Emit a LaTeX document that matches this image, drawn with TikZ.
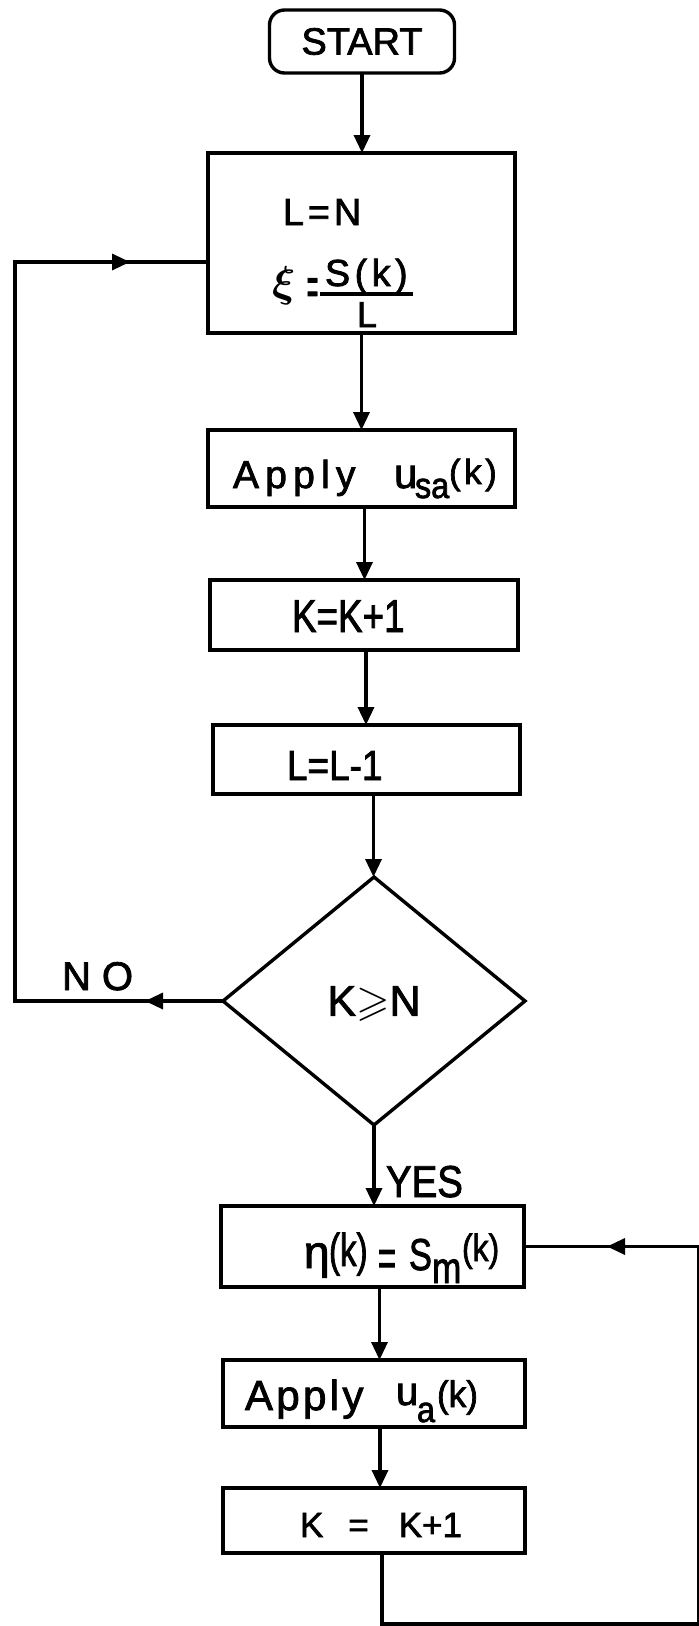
\documentclass[tikz,border=0pt]{standalone}
\usepackage{fix-cm}
\usepackage{amsmath}
\usepackage{amssymb}
\usepackage{graphicx}
\usepackage{fontspec}
\setmainfont{Liberation Sans}[FakeBold=2]
\usetikzlibrary{arrows.meta,shapes.geometric,decorations.markings}
\newcommand{\myfs}[1]{\fontsize{#1}{#1}\selectfont}
\newcommand{\lsp}[1]{\addfontfeature{LetterSpace=#1}}
\begin{document}
\begin{tikzpicture}[x=1pt,y=-1pt,
  box/.style={draw, line width=3.4pt, inner sep=0pt, outer sep=0pt},
  startbox/.style={box, rounded corners=15pt},
  decision/.style={box, diamond},
  conn/.style={line width=3.4pt},
  tip/.tip={Triangle[length=18pt,width=16pt]},
  arr/.style={conn, -tip},
  lbl/.style={anchor=base west, inner sep=0pt, outer sep=0pt},
  onemark/.style={conn, postaction={decorate}, decoration={markings,
     mark=at position #1 with {\arrow{tip}}}},
  twomarks/.style 2 args={conn, postaction={decorate}, decoration={markings,
     mark=at position #1 with {\arrow{tip}},
     mark=at position #2 with {\arrow{tip}}}}
]
\useasboundingbox (0,0) rectangle (699,1626);

% boxes
\node[startbox, minimum width=185pt, minimum height=63pt] (start) at (362,41.5) {\myfs{38}START};
\node[box, minimum width=307pt, minimum height=180pt] (b1) at (361.5,243) {};
\node[box, minimum width=307pt, minimum height=77pt] (b2) at (361.5,468.5) {};
\node[box, minimum width=308pt, minimum height=70pt] (b3) at (364,615) {};
\node[box, minimum width=307pt, minimum height=69pt] (b4) at (366.5,759.5) {};
\node[decision, minimum width=302pt, minimum height=248pt, text depth=0pt] (dia) at (374,1001) {\myfs{43}K$\geqslant$N};
\node[box, minimum width=303pt, minimum height=81pt] (b5) at (372.5,1246.5) {};
\node[box, minimum width=302pt, minimum height=67pt] (b6) at (374,1393.5) {};
\node[box, minimum width=302pt, minimum height=65pt] (b7) at (374,1520.5) {};

% box 1 texts
\node[lbl] (tLN) at (283,225) {\myfs{37.7}L\hspace{4pt}=\hspace{4pt}N};
\node[lbl] (txi) at (272,296) {\myfs{24}\scalebox{1.8}{$\boldsymbol{\xi}$}};
\node[lbl] (teq) at (307,305) {\myfs{32}\scalebox{0.6}[1.7]{=}};
\node[lbl] (tnum) at (325,286) {\myfs{37.7}\lsp{12}S(k)};
\draw[conn] (320,294) -- (413,294);
\node[lbl] (tden) at (357,327) {\myfs{36}L};

% box 2
\node[lbl] (t2a) at (233,488) {\myfs{39}\lsp{16}Apply};
\node[lbl] (t2u) at (394,488) {\myfs{42}u};
\node[lbl] (t2s) at (415,498) {\myfs{36}\scalebox{0.9}[1]{sa}};
\node[lbl] (t2k) at (449,484) {\myfs{35}\lsp{10}(k)};

% box 3, 4
\node[lbl] (t3) at (292,632) {\myfs{46}\scalebox{0.8}[1]{K=K+1}};
\node[lbl] (t4) at (287,780) {\myfs{42}\scalebox{0.88}[1]{L=L-1}};

% decision labels
\node[lbl] (tno) at (62,990) {\myfs{40}N O};
\node[lbl] (tyes) at (386,1197) {\myfs{44.7}\scalebox{0.86}[1]{YES}};

% box 5
\node[lbl] (t5a) at (304,1268) {\myfs{46}η};
\node[lbl] (t5b) at (329,1266) {\myfs{46}\scalebox{0.72}[1]{(k)}};
\node[lbl] (t5c) at (378,1276) {\myfs{44}\scalebox{0.7}[1.2]{=}};
\node[lbl] (t5d) at (409,1270) {\myfs{44.7}\scalebox{0.77}[1]{S}};
\node[lbl] (t5e) at (432,1283) {\myfs{44}\scalebox{0.8}[1]{m}};
\node[lbl] (t5f) at (462,1261) {\myfs{38}\scalebox{0.84}[1]{(k)}};

% box 6
\node[lbl] (t6a) at (245,1410) {\myfs{42}\lsp{8}Apply};
\node[lbl] (t6u) at (396,1405) {\myfs{40}u};
\node[lbl] (t6s) at (417,1422) {\myfs{36}\scalebox{0.9}[1]{a}};
\node[lbl] (t6k) at (437,1407) {\myfs{37}\scalebox{0.95}[1]{(k)}};

% box 7
\node[lbl] (t7) at (300,1537) {\myfs{35}K\hspace{25pt}=\hspace{30pt}K+1};

% main flow
\draw[arr] (start.south) -- (start.south |- b1.north);
\draw[arr] (b1.south) -- (b1.south |- b2.north);
\draw[arr] ([xshift=3pt]b2.south) -- ([xshift=3pt]b2.south |- b3.north);
\draw[arr] ([xshift=2pt]b3.south) -- ([xshift=2pt]b3.south |- b4.north);
\draw[arr] ([xshift=7pt]b4.south) -- ([xshift=7pt]b4.south |- dia.north);
\draw[arr] (dia.south) -- (dia.south |- b5.north);
\draw[arr] ([xshift=7pt]b5.south) -- ([xshift=7pt]b5.south |- b6.north);
\draw[arr] ([xshift=6pt]b6.south) -- ([xshift=6pt]b6.south |- b7.north);

% NO loop
\coordinate (lft) at (15,262);
\draw[twomarks={78pt}{-78pt}] (dia.west) -- (dia.west -| lft) -- (lft) -- (lft -| b1.west);

% lower loop
\coordinate (br) at (698.5,1624);
\draw[onemark=-83pt] ([xshift=8pt]b7.south) -- ([xshift=8pt]b7.south |- br) -- (br) -- (br |- b5.east) -- (b5.east);
\end{tikzpicture}
\end{document}
